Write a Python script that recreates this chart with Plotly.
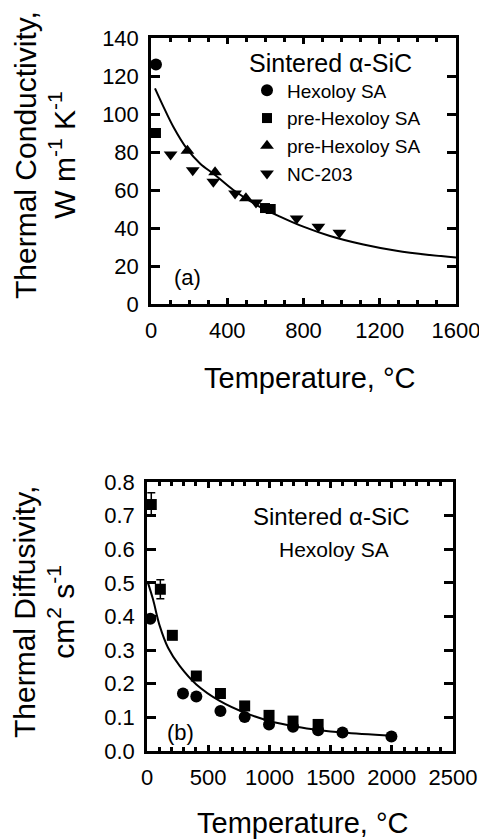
import plotly.graph_objects as go

# ---- Panel (a): thermal conductivity ----
T_hex_a = [26]
k_hex_a = [126]
T_pre1_a = [26, 598, 628]
k_pre1_a = [90, 50.5, 50]
T_pre2_a = [191, 336, 498]
k_pre2_a = [80.6, 69.4, 55.7]
T_nc_a = [103, 219, 327, 441, 551, 764, 878, 988]
k_nc_a = [78.7, 70.4, 64.3, 58.2, 53.4, 45.0, 40.6, 37.5]
T_fit_a = [21, 65, 117, 187, 257, 336, 432, 554, 677, 799, 939, 1114, 1288, 1463, 1600]
k_fit_a = [113.5, 103.9, 93.3, 81.9, 74.0, 67.9, 60.0, 52.1, 46.0, 40.7, 35.8, 31.3, 28.0, 25.8, 24.5]

# ---- Panel (b): thermal diffusivity ----
T_sq_b = [35, 109, 207, 403, 600, 798, 997, 1193, 1398]
a_sq_b = [0.733, 0.481, 0.344, 0.223, 0.171, 0.134, 0.106, 0.089, 0.079]
err_sq_b = [0.035, 0.028, 0, 0, 0, 0, 0, 0, 0]
T_ci_b = [27, 294, 403, 600, 798, 997, 1193, 1398, 1597, 1997]
a_ci_b = [0.393, 0.171, 0.162, 0.119, 0.101, 0.079, 0.072, 0.062, 0.055, 0.043]
T_fit_b = [8, 49, 104, 172, 267, 403, 594, 798, 1003, 1221, 1411, 1602, 2000]
a_fit_b = [0.50, 0.451, 0.372, 0.307, 0.253, 0.198, 0.149, 0.114, 0.089, 0.072, 0.062, 0.055, 0.045]

# ---- tick labels ----
xa_ticks = [0, 400, 800, 1200, 1600]
ya_ticks = [0, 20, 40, 60, 80, 100, 120, 140]
xb_ticks = [0, 500, 1000, 1500, 2000, 2500]
yb_ticks = [0.0, 0.1, 0.2, 0.3, 0.4, 0.5, 0.6, 0.7, 0.8]
x_minor_step = 100

# page body has an 8px margin, so the figure is laid out 8px smaller
OFF = 8
W, H = 487 - OFF, 840 - OFF
FONT = "Liberation Sans, Arial, Helvetica, sans-serif"

def px_x(p):
    return (p - OFF) / W

def px_y(p):
    return 1 - (p - OFF) / H

# panel boxes in screen pixels: left, right, top, bottom
BOX_A = (151, 456, 38, 304)
BOX_B = (147, 453, 482, 751)

fig = go.Figure()

# panel (a)
fig.add_trace(go.Scatter(x=T_fit_a, y=k_fit_a, mode="lines", line=dict(color="black", width=2, shape="spline"),
                         showlegend=False, xaxis="x", yaxis="y"))
fig.add_trace(go.Scatter(x=T_hex_a, y=k_hex_a, mode="markers", name="Hexoloy SA",
                         marker=dict(symbol="circle", size=12, color="black"), cliponaxis=False, xaxis="x", yaxis="y"))
fig.add_trace(go.Scatter(x=T_pre1_a, y=k_pre1_a, mode="markers", name="pre-Hexoloy SA",
                         marker=dict(symbol="square", size=10, color="black"), cliponaxis=False, xaxis="x", yaxis="y"))
fig.add_trace(go.Scatter(x=T_pre2_a, y=k_pre2_a, mode="markers", name="pre-Hexoloy SA",
                         marker=dict(symbol="triangle-up", size=12, color="black"), cliponaxis=False, xaxis="x", yaxis="y"))
fig.add_trace(go.Scatter(x=T_nc_a, y=k_nc_a, mode="markers", name="NC-203",
                         marker=dict(symbol="triangle-down", size=12, color="black"), cliponaxis=False, xaxis="x", yaxis="y"))

# panel (b)
fig.add_trace(go.Scatter(x=T_fit_b, y=a_fit_b, mode="lines", line=dict(color="black", width=2, shape="spline"),
                         showlegend=False, xaxis="x2", yaxis="y2"))
fig.add_trace(go.Scatter(x=T_sq_b, y=a_sq_b, mode="markers", showlegend=False,
                         marker=dict(symbol="square", size=11, color="black"),
                         error_y=dict(type="data", array=err_sq_b, color="black", thickness=1.5, width=4),
                         cliponaxis=False, xaxis="x2", yaxis="y2"))
fig.add_trace(go.Scatter(x=T_ci_b, y=a_ci_b, mode="markers", showlegend=False,
                         marker=dict(symbol="circle", size=12, color="black"), cliponaxis=False,
                         xaxis="x2", yaxis="y2"))

axis_common = dict(showline=True, linecolor="black", linewidth=2.5, mirror="allticks",
                   ticks="inside", tickcolor="black", tickwidth=2.5,
                   showgrid=False, zeroline=False, automargin=False,
                   tickmode="array", ticklabelstandoff=5,
                   tickfont=dict(family=FONT, size=22, color="black"))

x_common = dict(axis_common, ticklen=6,
                minor=dict(dtick=x_minor_step, ticks="inside", ticklen=4, tickcolor="black",
                           tickwidth=2.5, showgrid=False))
y_common = dict(axis_common, ticklen=9)

fig.update_layout(
    template="none",
    width=W, height=H,
    margin=dict(l=0, r=0, t=0, b=0, autoexpand=False),
    paper_bgcolor="white", plot_bgcolor="white",
    font=dict(family=FONT, color="black"),
    xaxis=dict(x_common, domain=[px_x(BOX_A[0]), px_x(BOX_A[1])], range=[xa_ticks[0], xa_ticks[-1]],
               tickvals=xa_ticks, anchor="y"),
    yaxis=dict(y_common, domain=[px_y(BOX_A[3]), px_y(BOX_A[2])], range=[ya_ticks[0], ya_ticks[-1]],
               tickvals=ya_ticks, anchor="x"),
    xaxis2=dict(x_common, domain=[px_x(BOX_B[0]), px_x(BOX_B[1])], range=[xb_ticks[0], xb_ticks[-1]],
                tickvals=xb_ticks, anchor="y2"),
    yaxis2=dict(y_common, domain=[px_y(BOX_B[3]), px_y(BOX_B[2])], range=[yb_ticks[0], yb_ticks[-1]],
                tickvals=yb_ticks, tickformat=".1f", anchor="x2"),
    legend=dict(x=px_x(247), y=px_y(39), xanchor="left", yanchor="top",
                bgcolor="rgba(0,0,0,0)", borderwidth=0,
                font=dict(family=FONT, size=19, color="black"),
                title=dict(text="Sintered α-SiC", side="top",
                           font=dict(family=FONT, size=25, color="black")),
                tracegroupgap=0),
)

ann = [
    dict(text="Temperature, °C", x=px_x(309), y=px_y(378), font=dict(size=29)),
    dict(text="Temperature, °C", x=px_x(302), y=px_y(823), font=dict(size=29)),
    dict(text="Thermal Conductivity,<br>W m<sup>-1</sup> K<sup>-1</sup>", x=px_x(45), y=px_y(155),
         textangle=-90, font=dict(size=30)),
    dict(text="Thermal Diffusivity,<br>cm<sup>2</sup> s<sup>-1</sup>", x=px_x(44), y=px_y(612),
         textangle=-90, font=dict(size=30)),
]
annotations = []
for a in ann:
    a.update(xref="paper", yref="paper", showarrow=False, xanchor="center", yanchor="middle")
    a["font"] = dict(family=FONT, color="black", size=a["font"]["size"])
    annotations.append(a)

annotations += [
    dict(text="(a)", x=194, y=13.7, xref="x", yref="y", showarrow=False,
         font=dict(family=FONT, size=22, color="black")),
    dict(text="(b)", x=270, y=0.054, xref="x2", yref="y2", showarrow=False,
         font=dict(family=FONT, size=22, color="black")),
    dict(text="Sintered α-SiC", x=1511, y=0.696, xref="x2", yref="y2", showarrow=False,
         font=dict(family=FONT, size=24, color="black")),
    dict(text="Hexoloy SA", x=1528, y=0.598, xref="x2", yref="y2", showarrow=False,
         font=dict(family=FONT, size=21, color="black")),
]
fig.update_layout(annotations=annotations)

fig.write_html("out.html")
